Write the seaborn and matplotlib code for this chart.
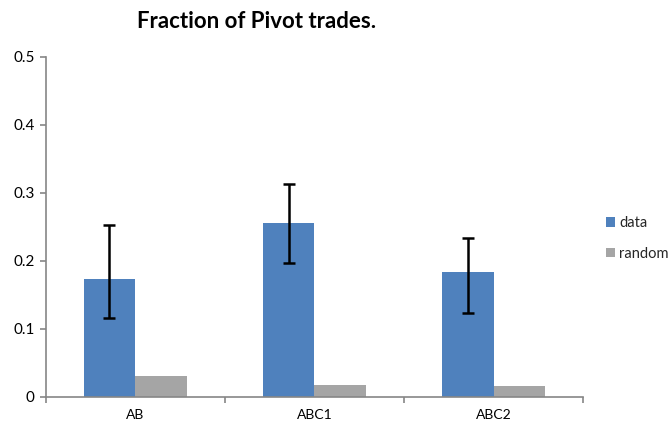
import matplotlib
matplotlib.use("Agg")
import matplotlib.pyplot as plt
import seaborn as sns
import pandas as pd
import numpy as np

categories = ["AB", "ABC1", "ABC2"]
series = ["data", "random"]
data_values = [0.173, 0.255, 0.183]
random_values = [0.030, 0.017, 0.016]
err_lower = [0.058, 0.058, 0.060]
err_upper = [0.080, 0.058, 0.051]
ytick_values = [0, 0.1, 0.2, 0.3, 0.4, 0.5]
ytick_labels = ["0", "0.1", "0.2", "0.3", "0.4", "0.5"]
title = "Fraction of Pivot trades."

sns.set_theme(style="white")
plt.rcParams["font.family"] = ["Lato", "DejaVu Sans"]

df = pd.DataFrame({
    "category": categories * 2,
    "series": [series[0]] * 3 + [series[1]] * 3,
    "value": data_values + random_values,
})

fig = plt.figure(figsize=(6.69, 4.23), dpi=100)
ax = fig.add_axes([0.0683, 0.0622, 0.8036, 0.8038])

palette = {"data": "#4F81BD", "random": "#A5A5A5"}
sns.barplot(data=df, x="category", y="value", hue="series", order=categories,
            hue_order=series, palette=palette, width=0.576, errorbar=None,
            saturation=1, ax=ax, legend=True, linewidth=0)

# error bars on data bars
bars = ax.containers[0]
xs = [p.get_x() + p.get_width() / 2 for p in bars]
ax.errorbar(xs, data_values, yerr=[err_lower, err_upper], fmt="none",
            ecolor="black", elinewidth=1.8, capsize=4, capthick=1.8, zorder=5)

ax.set_xlim(-0.5, 2.5)
ax.set_ylim(0, 0.5)
ax.set_yticks(ytick_values)
ax.set_yticklabels(ytick_labels)
ax.set_xlabel("")
ax.set_ylabel("")

for s in ["top", "right"]:
    ax.spines[s].set_visible(False)
for s in ["left", "bottom"]:
    ax.spines[s].set_color("#868686")
    ax.spines[s].set_linewidth(1.2)

ax.set_xticks([-0.5, 0.5, 1.5, 2.5], minor=True)
ax.tick_params(axis="x", which="major", length=0, labelsize=10, pad=9, colors="black")
ax.tick_params(axis="x", which="minor", length=4, width=1.2, color="#868686", direction="out")
ax.tick_params(axis="y", which="major", length=4, width=1.2, color="#868686",
               direction="out", labelsize=11, pad=4, labelcolor="black")
ax.tick_params(bottom=True, left=True, which="both")
ax.xaxis.set_tick_params(which="major", bottom=False)

handles, labels = ax.get_legend_handles_labels()
ax.legend_.remove()
fig.legend(handles, labels, loc="center left", bbox_to_anchor=(606 / 669, 0.436),
           frameon=False, fontsize=10.5, handlelength=0.6, handleheight=0.6,
           handletextpad=0.3, labelspacing=1.15, borderpad=0, borderaxespad=0)

fig.text(0.384, 0.948, title, ha="center", va="center", fontsize=16,
         fontweight="bold", color="black")

fig.savefig("out.png", dpi=100)
